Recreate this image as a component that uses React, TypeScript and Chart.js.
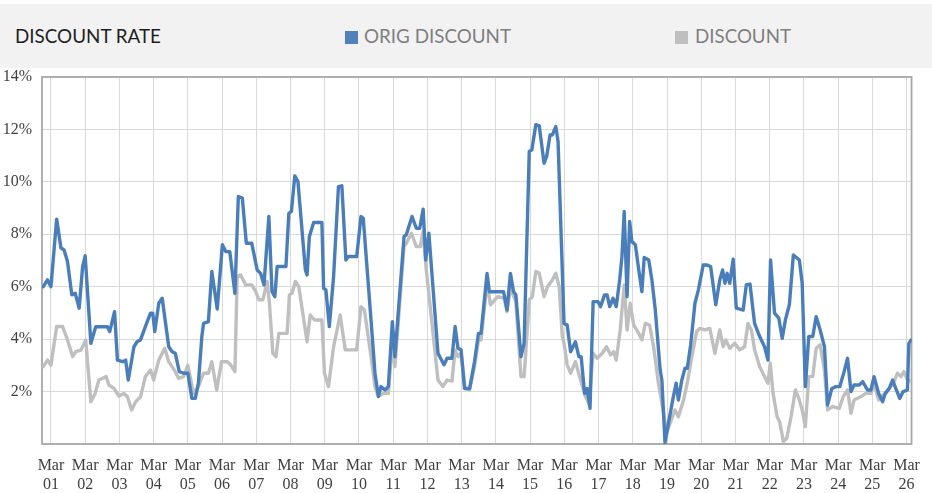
import React, { useEffect, useRef } from "react";
import { Chart, registerables } from "chart.js";

Chart.register(...registerables);

// Month offsets are counted from March 2001 (0 = Mar 01, 12 = Mar 02, ...)
const yearLabels = ["01","02","03","04","05","06","07","08","09","10","11","12","13","14","15","16","17","18","19","20","21","22","23","24","25","26"];
const yTickValues = [0, 2, 4, 6, 8, 10, 12, 14];

const seriesNames = ["ORIG DISCOUNT", "DISCOUNT"];

// [month offset, rate %]
const origDiscount: [number, number][] = [
  [-2.7,6.0],[-1.2,6.26],[0,6.0],[2.0,8.58],[3.5,7.48],[4.6,7.4],[5.8,6.96],[7.3,5.69],[8.5,5.75],[9.9,5.18],
  [11.1,6.77],[12.0,7.18],[14.0,3.84],[15.7,4.47],[19.8,4.47],[20.6,4.29],[22.3,5.05],[23.3,3.2],[25.2,3.14],[26.2,3.2],
  [27.1,2.44],[29.1,3.71],[30.2,3.9],[31.4,3.97],[33.1,4.48],[34.9,4.99],[35.7,4.99],[36.4,4.29],[37.8,5.37],[39.0,5.56],
  [41.3,3.71],[42.5,3.52],[43.6,3.46],[45.0,2.76],[46.5,2.7],[48.0,2.7],[49.4,1.74],[50.6,1.74],[51.7,2.32],[52.9,4.1],
  [53.5,4.6],[55.2,4.67],[56.4,6.58],[58.3,5.15],[60.1,7.6],[61.3,7.34],[62.7,7.34],[64.5,5.75],[65.7,9.44],[67.1,9.38],
  [68.5,7.66],[70.4,7.66],[72.3,6.64],[73.5,6.51],[74.7,6.07],[76.4,8.68],[77.5,5.81],[78.5,5.62],[79.3,6.77],[82.4,6.77],
  [83.4,8.8],[84.3,8.87],[85.5,10.23],[86.6,10.01],[89.2,6.64],[89.8,6.45],[90.6,7.91],[92.1,8.45],[95.0,8.45],[95.6,5.94],
  [96.4,5.88],[97.6,4.48],[99.1,6.39],[100.8,9.82],[102.0,9.85],[103.4,7.02],[104.3,7.15],[107.2,7.15],[108.7,8.68],[109.5,8.61],
  [112.4,4.48],[113.6,2.7],[114.8,1.81],[115.7,2.19],[117.1,2.06],[118.3,2.19],[119.7,4.67],[120.6,3.33],[123.8,7.91],[124.6,7.98],
  [126.6,8.68],[128.1,8.23],[129.3,8.23],[130.5,8.96],[131.4,7.02],[132.5,8.04],[135.7,3.46],[137.8,3.02],[138.9,3.27],[140.6,3.27],
  [141.7,4.48],[142.7,3.65],[143.8,3.59],[145.0,2.12],[146.8,2.12],[148.5,3.14],[149.9,4.22],[150.8,4.22],[152.9,6.51],[153.7,5.81],
  [158.7,5.81],[159.9,5.11],[161.1,6.51],[162.2,5.81],[163.0,5.69],[164.8,3.33],[165.9,3.84],[167.7,11.16],[168.6,11.22],[170.0,12.18],
  [171.2,12.14],[172.9,10.71],[173.8,10.97],[175.0,11.79],[175.8,11.79],[177.0,12.11],[177.8,11.54],[179.9,4.6],[181.0,4.54],[182.2,3.52],
  [183.9,3.9],[185.1,3.33],[185.9,3.33],[187.1,1.93],[188.0,2.12],[189.0,1.36],[190.1,5.43],[191.8,5.43],[192.7,5.24],[194.1,5.69],
  [195.0,5.69],[195.9,5.24],[197.1,5.56],[198.2,5.24],[199.4,6.26],[200.2,7.15],[201.0,8.87],[202.0,5.62],[202.9,8.49],[203.7,7.72],
  [204.9,7.6],[206.1,6.64],[207.2,5.81],[208.0,7.12],[209.6,7.02],[210.7,6.26],[211.9,5.11],[213.6,2.82],[214.2,2.44],[215.3,0.05],
  [216.5,0.79],[218.0,1.68],[219.2,2.32],[220.0,1.68],[221.2,2.44],[222.3,2.89],[223.1,2.89],[224.3,3.78],[225.8,5.37],[227.0,5.88],
  [228.7,6.83],[229.9,6.83],[231.3,6.77],[233.1,5.31],[234.5,6.26],[235.5,6.64],[236.3,6.13],[237.1,6.51],[238.0,6.13],[239.2,7.05],
  [240.3,5.18],[242.7,5.11],[243.8,6.07],[245.1,6.1],[246.7,4.6],[248.5,4.1],[250.2,3.71],[251.4,3.2],[252.3,7.02],[253.7,4.99],
  [255.2,4.8],[256.4,4.03],[257.5,4.73],[258.9,5.31],[260.3,7.21],[262.4,7.02],[263.4,6.13],[264.5,2.19],[265.7,4.1],[267.1,4.1],
  [268.3,4.86],[269.7,4.35],[271.2,3.71],[272.3,1.49],[273.8,2.12],[275.2,2.19],[276.6,2.19],[278.1,2.76],[279.3,3.27],[280.5,2.0],
  [281.6,2.25],[283.4,2.25],[284.6,2.38],[286.3,2.06],[287.5,2.06],[288.6,2.57],[290.2,1.93],[291.6,1.61],[292.5,1.93],[293.9,2.12],
  [295.1,2.44],[296.2,2.12],[297.6,1.74],[298.8,2.0],[300.3,2.06],[300.8,3.84],[301.6,3.97]
];

const discount: [number, number][] = [
  [-2.7,2.95],[-1.2,3.2],[0,3.0],[2.0,4.48],[4.1,4.48],[5.8,3.97],[7.6,3.33],[8.7,3.52],[10.5,3.58],[12.2,3.97],
  [14.0,1.61],[15.5,1.93],[16.8,2.44],[19.4,2.57],[20.3,2.25],[22.1,2.12],[23.8,1.83],[25.6,1.93],[26.8,1.8],[28.3,1.3],
  [29.7,1.61],[31.4,1.8],[33.1,2.57],[34.9,2.82],[36.0,2.44],[37.8,3.2],[39.9,3.65],[41.3,3.14],[43.6,2.76],[44.8,2.5],
  [46.5,2.57],[48.0,3.0],[50.0,1.93],[51.7,2.19],[53.5,2.7],[55.2,2.7],[56.4,3.14],[58.1,2.06],[59.8,3.14],[61.8,3.14],
  [63.0,3.02],[64.5,2.76],[65.3,6.39],[66.5,6.45],[68.3,6.07],[70.4,6.07],[71.8,5.81],[72.9,5.5],[74.3,5.5],[75.8,6.2],
  [76.6,5.37],[77.8,3.46],[78.9,3.33],[79.9,4.22],[82.8,4.22],[83.6,5.69],[84.5,5.75],[85.7,6.2],[86.9,6.0],[88.3,4.99],
  [89.8,3.9],[90.9,4.92],[92.4,4.73],[95.0,4.73],[95.9,2.7],[97.3,2.19],[99.1,3.71],[101.4,4.92],[103.2,3.59],[107.2,3.59],
  [108.7,5.24],[109.9,5.11],[112.4,3.2],[113.6,2.19],[114.8,1.81],[116.5,1.93],[118.3,1.93],[119.7,3.84],[120.6,2.95],[123.8,7.53],
  [124.6,7.66],[126.4,8.04],[128.1,7.53],[129.5,7.53],[130.5,8.1],[131.6,6.64],[135.7,2.44],[137.4,2.19],[138.9,2.44],[140.6,2.4],
  [141.7,3.59],[142.7,3.33],[143.8,3.46],[145.2,2.12],[146.8,2.06],[148.5,2.95],[149.9,3.97],[150.8,3.97],[152.9,6.13],[154.1,5.31],
  [156.6,5.62],[158.9,5.56],[159.9,5.05],[161.1,5.94],[163.0,5.43],[164.8,2.57],[165.9,2.57],[167.7,5.5],[168.8,5.62],[170.0,6.58],
  [171.2,6.51],[172.9,5.62],[174.1,6.0],[175.8,6.26],[177.0,6.51],[178.2,6.0],[179.3,4.1],[179.9,3.84],[181.0,3.02],[182.2,2.7],
  [183.9,3.14],[185.7,2.44],[187.4,1.81],[188.6,1.55],[190.1,3.46],[191.5,3.27],[193.3,3.46],[194.8,3.71],[196.2,3.4],[197.3,3.52],
  [198.2,3.2],[199.6,4.35],[201.0,6.07],[202.0,4.35],[203.1,5.37],[204.3,4.54],[206.1,4.22],[207.2,3.97],[208.4,4.6],[209.9,4.54],
  [211.3,3.71],[213.0,2.32],[214.8,1.17],[215.9,0.41],[217.1,0.79],[218.8,1.3],[220.0,1.04],[221.8,1.68],[223.1,2.32],[224.7,3.33],
  [226.4,4.29],[227.5,4.41],[229.3,4.35],[231.0,4.41],[232.8,3.46],[234.5,4.35],[235.7,3.71],[236.6,3.97],[238.0,3.65],[239.7,3.84],
  [241.5,3.59],[243.2,3.71],[244.4,4.6],[245.6,4.35],[246.7,3.6],[248.5,2.95],[250.2,2.57],[251.4,2.32],[252.2,3.08],[253.2,1.93],
  [254.6,1.04],[255.5,0.85],[256.8,0.1],[258.0,0.22],[259.5,1.04],[261.0,2.06],[262.4,1.68],[263.4,1.3],[264.5,0.66],[265.7,2.57],
  [267.1,2.57],[268.3,3.65],[269.7,3.78],[271.2,2.82],[272.3,1.3],[274.1,1.43],[276.4,1.36],[277.8,1.81],[279.3,2.06],[280.5,1.17],
  [281.6,1.68],[284.0,1.81],[285.7,1.93],[287.5,1.93],[288.6,2.32],[290.2,1.68],[291.6,1.87],[292.7,1.93],[294.5,2.19],[295.6,2.38],
  [296.8,2.7],[298.0,2.57],[299.1,2.76],[300.3,2.44],[301.4,2.4]
];

const BLUE = "#4A7EBB";
const GRAY = "#BFBFBF";
const HEADER_FONT = "Lato, 'Open Sans', sans-serif";
const TICK_FONT = "Liberation Serif";

const plotBorder = {
  id: "plotBorder",
  beforeDatasetsDraw(chart: any) {
    const { ctx, chartArea } = chart;
    ctx.save();
    ctx.strokeStyle = "#A8A8A8";
    ctx.lineWidth = 1.8;
    ctx.strokeRect(chartArea.left, chartArea.top, chartArea.right - chartArea.left, chartArea.bottom - chartArea.top);
    ctx.restore();
  },
};

function FitText(props: { text: string; left: number; top: number; width: number; color: string }) {
  const ref = useRef<HTMLSpanElement | null>(null);
  useEffect(() => {
    const el = ref.current;
    if (!el) return;
    el.style.transform = "none";
    const w = el.getBoundingClientRect().width;
    if (w > 0) el.style.transform = `scaleX(${props.width / w})`;
  }, [props.text, props.width]);
  return (
    <span
      ref={ref}
      style={{
        position: "absolute",
        left: props.left,
        top: props.top,
        fontFamily: HEADER_FONT,
        fontSize: 19,
        lineHeight: "19px",
        color: props.color,
        whiteSpace: "nowrap",
        transformOrigin: "left top",
        display: "inline-block",
      }}
    >
      {props.text}
    </span>
  );
}

export default function App() {
  const canvasRef = useRef<HTMLCanvasElement | null>(null);

  useEffect(() => {
    if (!canvasRef.current) return;
    Chart.defaults.font.family = TICK_FONT;
    const tickFont = { family: TICK_FONT, size: 16, style: "normal" as const, weight: "normal" as const, lineHeight: 1.2 };
    const chart = new Chart(canvasRef.current, {
      type: "line",
      data: {
        datasets: [
          {
            label: seriesNames[0],
            data: origDiscount.map(([x, y]) => ({ x, y })),
            borderColor: BLUE,
            backgroundColor: BLUE,
            borderWidth: 3.4,
            pointRadius: 0,
            tension: 0,
            borderJoinStyle: "round",
            borderCapStyle: "round",
          },
          {
            label: seriesNames[1],
            data: discount.map(([x, y]) => ({ x, y })),
            borderColor: GRAY,
            backgroundColor: GRAY,
            borderWidth: 3.4,
            pointRadius: 0,
            tension: 0,
            borderJoinStyle: "round",
            borderCapStyle: "round",
          },
        ],
      },
      options: {
        animation: false,
        responsive: false,
        maintainAspectRatio: false,
        font: tickFont,
        layout: { padding: { left: 0, top: 77, right: 16, bottom: 0 } },
        plugins: {
          legend: { display: false },
          title: { display: false },
          tooltip: { enabled: false },
        },
        scales: {
          x: {
            type: "linear",
            min: -3.14,
            max: 301.74,
            afterBuildTicks: (scale: any) => {
              scale.ticks = yearLabels.map((_, i) => ({ value: i * 12 }));
            },
            afterFit: (scale: any) => {
              scale.height = 49;
            },
            border: { display: false },
            grid: { color: "#D9D9D9", lineWidth: 1, drawTicks: false },
            ticks: {
              autoSkip: false,
              maxRotation: 0,
              minRotation: 0,
              padding: 12,
              color: "#404040",
              font: tickFont,
              callback: (_v: any, i: number) => ["Mar", yearLabels[i]],
            },
          },
          y: {
            min: 0,
            max: 14,
            afterBuildTicks: (scale: any) => {
              scale.ticks = yTickValues.map((v) => ({ value: v }));
            },
            afterFit: (scale: any) => {
              scale.width = 42;
            },
            border: { display: false },
            grid: { color: "#D9D9D9", lineWidth: 1, drawTicks: false },
            ticks: {
              padding: 10,
              color: "#404040",
              font: tickFont,
              callback: (v: any) => (v === 0 ? "" : v + "%"),
            },
          },
        },
      },
      plugins: [plotBorder],
    } as any);
    return () => chart.destroy();
  }, []);

  return (
    <div style={{ position: "fixed", left: 0, top: 0, width: 932, height: 493, background: "#FFFFFF", overflow: "hidden" }}>
      <div style={{ position: "absolute", left: 0, top: 4, width: 932, height: 64, background: "#F2F2F2" }} />
      <FitText text="DISCOUNT RATE" left={15} top={26} width={146} color="#1F1F1F" />
      <div style={{ position: "absolute", left: 345, top: 31, width: 12.5, height: 12.5, background: "#4F81BD" }} />
      <FitText text={seriesNames[0]} left={363.5} top={26} width={147} color="#7F7F7F" />
      <div style={{ position: "absolute", left: 675, top: 31, width: 12.5, height: 12.5, background: GRAY }} />
      <FitText text={seriesNames[1]} left={694.5} top={26} width={96} color="#7F7F7F" />
      <canvas ref={canvasRef} width={932} height={493} style={{ position: "absolute", left: 0, top: 0, width: 932, height: 493 }} />
    </div>
  );
}
